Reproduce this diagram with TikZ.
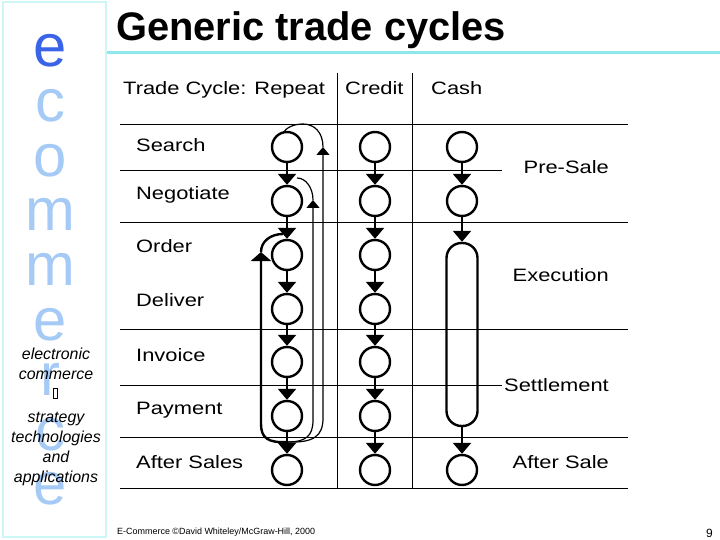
\documentclass[tikz,border=0pt]{standalone}
\usepackage{fontspec}
\setmainfont{Liberation Sans}
\newfontfamily\bodyfont[FakeStretch=1.22]{Liberation Sans}
\usetikzlibrary{arrows.meta}

\definecolor{framecyan}{RGB}{205,246,246}
\definecolor{rulecyan}{RGB}{140,232,236}
\definecolor{letterblue}{RGB}{165,202,245}
\definecolor{headblue}{RGB}{58,100,232}

\tikzset{
    stage/.style={circle, draw, line width=2.4bp, minimum size=30bp, inner sep=0pt},
    flow/.style={line width=2.4bp, -{Triangle[length=11bp, width=18bp]}},
    backflow/.style={line width=2.4bp, -{Triangle[length=9bp, width=20bp]}},
    thinflow/.style={line width=1.2bp, -{Triangle[length=8bp, width=13bp]}},
    grid/.style={line width=0.9bp},
    rowtext/.style={font=\bodyfont\fontsize{18}{21}\selectfont, inner sep=0pt, anchor=base west},
    phasetext/.style={font=\bodyfont\fontsize{18}{21}\selectfont, inner sep=0pt, anchor=base east},
    sidetext/.style={font=\itshape\fontsize{16}{19}\selectfont, inner sep=0pt, anchor=base},
    brand/.style={font=\fontsize{60}{60}\selectfont, text=letterblue, inner sep=0pt, anchor=base},
}

\begin{document}
\begin{tikzpicture}[x=1bp, y=-1bp]
    \useasboundingbox (0,0) rectangle (720,540);

    % Side bar
    \node[brand, text=headblue] (s1) at (50,67) {e};
    \node[brand] (s2) at (50,122) {c};
    \node[brand] (s3) at (50,177) {o};
    \node[brand] (s4) at (50,231) {m};
    \node[brand] (s5) at (50,286) {m};
    \node[brand] (s6) at (50,340) {e};
    \node[brand] (s7) at (50,395) {r};
    \node[brand] (s8) at (50,450) {c};
    \node[brand] (s9) at (50,504) {e};
    \draw[framecyan, line width=2.5bp] (3,2) rectangle (106,537);
    \draw[rulecyan, line width=3bp] (107,53) -- (720,53);

    \node[sidetext] (t1) at (56,359) {electronic};
    \node[sidetext] (t2) at (56,379) {commerce};
    \node[draw, line width=0.6bp, minimum width=4bp, minimum height=10bp, inner sep=0pt] (t3) at (55,393) {};
    \node[sidetext] (t4) at (56,422) {strategy};
    \node[sidetext] (t5) at (56,442) {technologies};
    \node[sidetext] (t6) at (56,462) {and};
    \node[sidetext] (t7) at (56,482) {applications};

    % Title and footer
    \node[font=\bfseries\fontsize{40}{48}\selectfont, inner sep=0pt, anchor=base west] (title) at (116,41) {Generic trade cycles};
    \node[font=\fontsize{9}{11}\selectfont, inner sep=0pt, anchor=base west] (foot) at (117,534) {E-Commerce \textcopyright David Whiteley/McGraw-Hill, 2000};
    \node[font=\fontsize{12}{14}\selectfont, inner sep=0pt, anchor=base east] (page) at (713,537) {9};

    % Table
    \draw[grid] (337,73) -- (337,488);
    \draw[grid] (412,73) -- (412,488);
    \draw[grid] (120,124) -- (628,124);
    \draw[grid] (120,170) -- (502,170);
    \draw[grid] (120,222) -- (628,222);
    \draw[grid] (120,329) -- (628,329);
    \draw[grid] (120,385) -- (502,385);
    \draw[grid] (120,437) -- (628,437);
    \draw[grid] (120,488) -- (628,488);

    % Labels
    \node[rowtext] (head1) at (123,95) {Trade Cycle: Repeat};
    \node[rowtext] (head2) at (345,95) {Credit};
    \node[rowtext] (head3) at (431,95) {Cash};
    \node[rowtext] (search) at (136,152) {Search};
    \node[rowtext] (negotiate) at (136,200) {Negotiate};
    \node[rowtext] (order) at (136,253) {Order};
    \node[rowtext] (deliver) at (136,306) {Deliver};
    \node[rowtext] (invoice) at (136,361) {Invoice};
    \node[rowtext] (payment) at (136,414) {Payment};
    \node[rowtext] (aftersales) at (136,468) {After Sales};
    \node[phasetext] (presale) at (609,174) {Pre-Sale};
    \node[phasetext] (execution) at (609,282) {Execution};
    \node[phasetext] (settlement) at (609,391) {Settlement};
    \node[phasetext] (aftersale) at (609,468) {After Sale};

    % Draw nodes
    \node[stage] (r1) at (287,147) {};
    \node[stage] (r2) at (287,201) {};
    \node[stage] (r3) at (287,255) {};
    \node[stage] (r4) at (287,309) {};
    \node[stage] (r5) at (287,362) {};
    \node[stage] (r6) at (287,416) {};
    \node[stage] (r7) at (287,470) {};

    \node[stage] (c1) at (375,147) {};
    \node[stage] (c2) at (375,201) {};
    \node[stage] (c3) at (375,255) {};
    \node[stage] (c4) at (375,309) {};
    \node[stage] (c5) at (375,362) {};
    \node[stage] (c6) at (375,416) {};
    \node[stage] (c7) at (375,470) {};

    \node[stage] (h1) at (462,147) {};
    \node[stage] (h2) at (462,201) {};
    \node[draw, line width=2.4bp, rounded corners=15bp, minimum width=31bp, minimum height=183bp, inner sep=0pt] (h3) at (462,334.5) {};
    \node[stage] (h4) at (462,470) {};

    % Draw connections
    \draw[flow] (r1) -- (r2);
    \draw[flow] (r2) -- (r3);
    \draw[flow] (r3) -- (r4);
    \draw[flow] (r4) -- (r5);
    \draw[flow] (r5) -- (r6);
    \draw[flow] (r6) -- (r7);

    \draw[flow] (c1) -- (c2);
    \draw[flow] (c2) -- (c3);
    \draw[flow] (c3) -- (c4);
    \draw[flow] (c4) -- (c5);
    \draw[flow] (c5) -- (c6);
    \draw[flow] (c6) -- (c7);

    \draw[flow] (h1) -- (h2);
    \draw[flow] (h2) -- (h3);
    \draw[flow] (h3) -- (h4);

    % Repeat loops
    \coordinate (merge) at (287,442);
    \coordinate (back1) at (323,147);
    \coordinate (back2) at (313,200);
    \coordinate (back3) at (261,252);
    \coordinate (end1) at (283,133);
    \coordinate (end2) at (297,178);
    \coordinate (end3) at (283,234);

    \draw[backflow] (merge) .. controls (268,443) and (261,438) .. (261,424) -- (back3);
    \draw[line width=2.4bp] (back3) .. controls (261,241) and (271,234) .. (end3);
    \draw[thinflow] (merge) .. controls (306,442) and (313,436) .. (313,420) -- (back2);
    \draw[line width=1.2bp] (back2) .. controls (313,188) and (306,178) .. (end2);
    \draw[thinflow] (merge) .. controls (314,443) and (323,436) .. (323,418) -- (back1);
    \draw[line width=1.2bp] (back1) .. controls (323,132) and (314,124) .. (303,124) .. controls (293,124) and (286,128) .. (end1);
\end{tikzpicture}
\end{document}
